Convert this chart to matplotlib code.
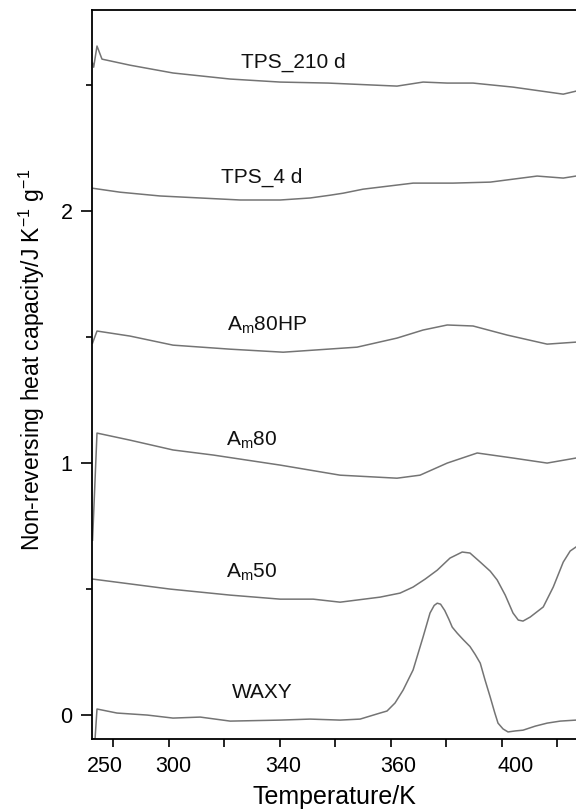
"""
Non-reversing heat capacity curves (stacked), redrawn with matplotlib.
"""

import matplotlib
matplotlib.use("Agg")
import matplotlib.pyplot as plt

plt.rcParams["font.family"] = ["Liberation Sans", "DejaVu Sans"]
plt.rcParams["mathtext.fontset"] = "custom"
plt.rcParams["mathtext.rm"] = "Liberation Sans"
plt.rcParams["mathtext.it"] = "Liberation Sans:italic"

# Data (temperature in K, offset heat capacity)
waxy_t = [272.6, 273.5, 274.2, 281.4, 292.3, 301.6, 311.4, 322.2, 340.2, 351.0,
          361.8, 369.0, 376.2, 378.7, 381.6, 384.5, 388.1, 391.7, 394.2, 395.7,
          396.8, 398.0, 399.5, 401.0, 402.2, 404.0, 406.1, 408.6, 410.5, 412.3,
          414.0, 415.9, 417.5, 418.7, 420.5, 422.3, 424.9, 427.7, 432.1, 436.4,
          441.1, 446.8]
waxy_y = [-0.095, -0.095, 0.024, 0.008, 0.000, -0.012, -0.008, -0.024, -0.020, -0.016,
          -0.020, -0.016, 0.008, 0.016, 0.048, 0.099, 0.179, 0.310, 0.405, 0.435,
          0.444, 0.440, 0.415, 0.380, 0.349, 0.325, 0.300, 0.272, 0.240, 0.206,
          0.140, 0.071, 0.010, -0.032, -0.055, -0.067, -0.063, -0.060, -0.044, -0.032,
          -0.024, -0.020]

am50_t = [272.4, 300.5, 322.2, 340.2, 352.1, 361.8, 376.2, 383.4, 388.1, 392.5,
          396.8, 401.4, 405.8, 408.6, 412.3, 415.9, 418.4, 421.3, 424.1, 426.0,
          427.7, 430.3, 435.0, 438.6, 442.2, 444.7, 446.8]
am50_y = [0.540, 0.500, 0.476, 0.460, 0.460, 0.448, 0.468, 0.484, 0.508, 0.540,
          0.575, 0.623, 0.647, 0.643, 0.607, 0.571, 0.536, 0.476, 0.405, 0.377,
          0.373, 0.389, 0.429, 0.508, 0.607, 0.651, 0.667]

am80_t = [272.6, 274.2, 286.1, 301.6, 316.0, 340.2, 361.8, 382.3, 390.6, 400.4,
          411.2, 424.1, 436.4, 446.8]
am80_y = [0.694, 1.119, 1.091, 1.052, 1.032, 0.992, 0.952, 0.940, 0.952, 1.000,
          1.040, 1.020, 1.000, 1.020]

am80hp_t = [272.6, 274.2, 286.1, 301.6, 322.2, 341.3, 367.9, 382.3, 391.7, 400.4,
            409.7, 422.0, 436.4, 446.8]
am80hp_y = [1.476, 1.524, 1.504, 1.468, 1.452, 1.440, 1.460, 1.496, 1.528, 1.548,
            1.544, 1.508, 1.472, 1.480]

tps4_t = [272.4, 282.5, 296.9, 311.4, 325.8, 340.2, 351.0, 358.2, 362.9, 370.1,
          388.1, 402.5, 415.9, 432.8, 442.2, 446.8]
tps4_y = [2.091, 2.075, 2.060, 2.052, 2.044, 2.044, 2.052, 2.063, 2.071, 2.087,
          2.111, 2.111, 2.115, 2.139, 2.131, 2.139]

tps210_t = [272.6, 273.0, 274.2, 276.0, 286.1, 301.6, 322.2, 340.2, 357.5, 382.3,
            391.7, 400.4, 409.7, 424.1, 442.2, 446.8]
tps210_y = [2.587, 2.571, 2.655, 2.603, 2.579, 2.548, 2.524, 2.512, 2.508, 2.496,
            2.512, 2.508, 2.508, 2.492, 2.464, 2.476]

curve_labels = ["WAXY", r"A$_\mathrm{m}$50", r"A$_\mathrm{m}$80",
                r"A$_\mathrm{m}$80HP", "TPS_4 d", "TPS_210 d"]
label_t = [333.7, 330.1, 330.1, 335.5, 333.7, 344.9]
label_y = [0.09, 0.565, 1.09, 1.545, 2.135, 2.59]

xtick_pos = [277.1, 301.6, 341.3, 382.7, 424.9]
xtick_text = ["250", "300", "340", "360", "400"]
xtick_marks = [280, 300, 320, 340, 360, 380, 400, 420, 440]

fig = plt.figure(figsize=(5.76, 8.09), dpi=100)
ax = fig.add_axes([92 / 576, 1 - 739 / 809, 484 / 576, 729 / 809])

line_kw = dict(color="#747474", lw=1.1)
for t, y in [(waxy_t, waxy_y), (am50_t, am50_y), (am80_t, am80_y),
             (am80hp_t, am80hp_y), (tps4_t, tps4_y), (tps210_t, tps210_y)]:
    ax.plot(t, y, **line_kw)

for lab, t, y in zip(curve_labels, label_t, label_y):
    ax.text(t, y, lab, fontsize=15, ha="center", va="center", color="#111111")

ax.set_xlim(272.4, 446.8)
ax.set_ylim(-0.095, 2.798)

ax.set_xticks(xtick_pos)
ax.set_xticklabels(xtick_text)
ax.set_xticks(xtick_marks, minor=True)
ax.tick_params(axis="x", which="major", length=0, pad=12, labelsize=15.5)
ax.tick_params(axis="x", which="minor", length=6, width=1.2, direction="out")

ax.set_yticks([0, 1, 2])
ax.set_yticks([0.5, 1.5, 2.5], minor=True)
ax.tick_params(axis="y", which="major", length=8, width=1.2, pad=6, labelsize=15.5)
ax.tick_params(axis="y", which="minor", length=4.5, width=1.2)

for side in ["left", "bottom", "top"]:
    ax.spines[side].set_linewidth(1.3)
ax.spines["right"].set_visible(False)

ax.set_xlabel("Temperature/K", fontsize=18, labelpad=6)
ax.set_ylabel(r"Non-reversing heat capacity/J K$^{-1}$ g$^{-1}$", fontsize=16.5)
ax.yaxis.set_label_coords(-0.093, 0.52)

fig.savefig("out.png", dpi=100)
